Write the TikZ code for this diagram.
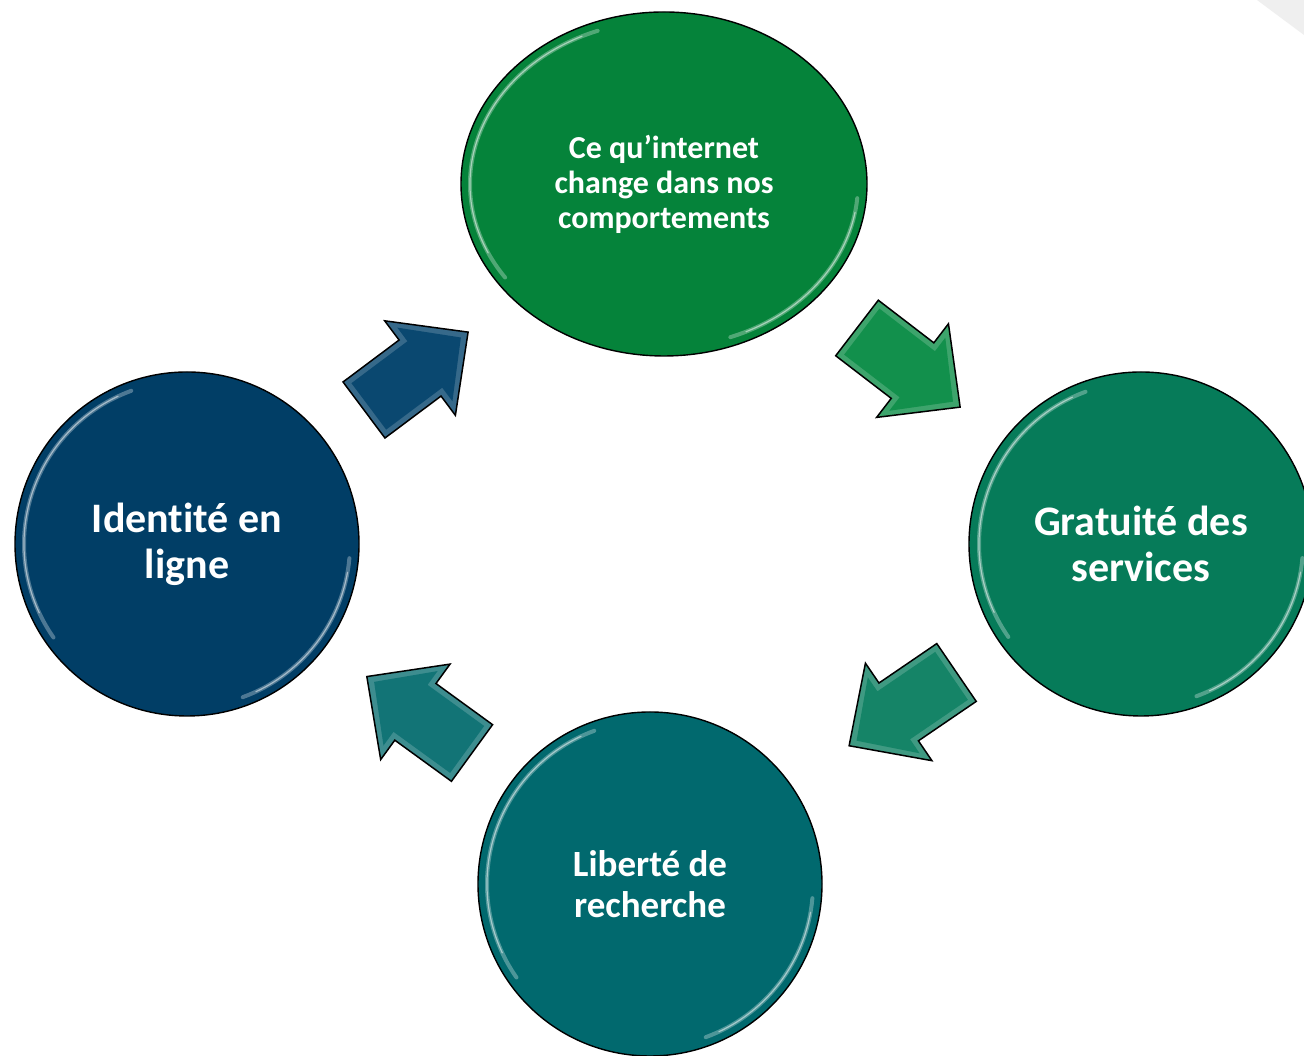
\documentclass[tikz,border=0pt]{standalone}
\usepackage{fontspec}
\setmainfont{Carlito}[Ligatures={NoCommon}]
\usetikzlibrary{shapes.geometric,calc}
\definecolor{cTop}{HTML}{05833A}
\definecolor{cRight}{HTML}{067B59}
\definecolor{cBottom}{HTML}{01696E}
\definecolor{cLeft}{HTML}{013E66}
\definecolor{aOne}{HTML}{12904C}
\definecolor{aTwo}{HTML}{0A4870}
\definecolor{aThree}{HTML}{158467}
\definecolor{aFour}{HTML}{127476}
\definecolor{corner}{HTML}{EFEFEF}
\tikzset{
  bubble/.style={circle, draw=black, line width=1.4pt, fill=#1, text=white,
    minimum size=344pt, inner sep=0pt, align=center,
    font=\bfseries\fontsize{42}{46}\selectfont},
  hl/.style={white, opacity=0.3, line width=4pt, line cap=round},
  hlcore/.style={white, opacity=0.5, line width=1.2pt, line cap=round},
  pics/blockarrow/.style={code={
    \path[draw=black, line width=1.5pt, fill=#1!82!white, line join=miter]
      (0,-35) -- (70,-35) -- (70,-59) -- (130,0) -- (70,59) -- (70,35) -- (0,35) -- cycle;
    \path[fill=#1] (6,-29) -- (76,-29) -- (76,-46) -- (121,0) -- (76,46) -- (76,29) -- (6,29) -- cycle;
    \coordinate (-tail) at (0,0);
    \coordinate (-tip) at (130,0);
  }}
}
\begin{document}
\begin{tikzpicture}[x=1pt,y=1pt]
\useasboundingbox (0,0) rectangle (1304,1056);
\fill[white] (0,0) rectangle (1304,1056);
\begin{scope}
\clip (0,0) rectangle (1304,1056);
\fill[corner] (1257,1056) -- (1304,1056) -- (1304,1021) -- cycle;

% circles
\node[ellipse, draw=black, line width=1.4pt, fill=cTop, text=white,
      minimum width=406pt, minimum height=344pt, inner sep=0pt, align=center,
      font=\bfseries\fontsize{32}{35}\selectfont] (top) at (664,872)
      {Ce qu’internet\\change dans nos\\comportements};
\node[bubble=cLeft] (left) at (187,512) {Identité en\\ligne};
\node[bubble=cRight] (right) at (1141,512) {Gratuité des\\services};
\node[bubble=cBottom, font=\bfseries\fontsize{37}{41}\selectfont] (bottom) at (650,172) {Liberté de\\recherche};

% bevel highlights
\foreach \n/\rx/\ry in {top/194/163, left/163/163, right/162/162, bottom/163/163}{
  \draw[hl] ($(\n.center)+(110:\rx pt and \ry pt)$) arc[start angle=110, end angle=215, x radius=\rx pt, y radius=\ry pt];
  \draw[hlcore] ($(\n.center)+(115:\rx pt and \ry pt)$) arc[start angle=115, end angle=205, x radius=\rx pt, y radius=\ry pt];
  \draw[hl] ($(\n.center)+(290:\rx pt and \ry pt)$) arc[start angle=290, end angle=355, x radius=\rx pt, y radius=\ry pt];
  \draw[hlcore] ($(\n.center)+(295:\rx pt and \ry pt)$) arc[start angle=295, end angle=350, x radius=\rx pt, y radius=\ry pt];
}

% block arrows
\pic[rotate=-37.5] (a1) at (857,728) {blockarrow=aOne};
\pic[rotate=214.3] (a3) at (956.5,383.5) {blockarrow=aThree};
\pic[rotate=144] (a4) at (472,303) {blockarrow=aFour};
\pic[rotate=36.8] (a2) at (364,646) {blockarrow=aTwo};
\end{scope}
\end{tikzpicture}
\end{document}
